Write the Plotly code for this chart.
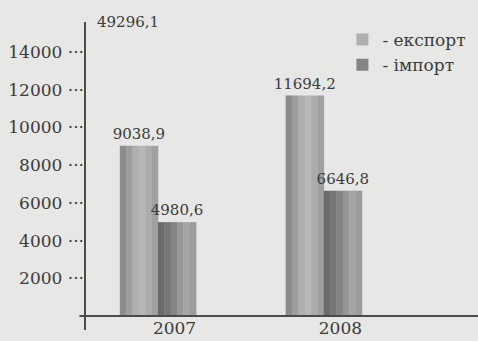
"""Export / import bar chart (2007-2008) recreated with Plotly."""

import plotly.graph_objects as go

YEARS = [2007, 2008]
EXPORT = [9038.9, 11694.2]
IMPORT = [4980.6, 6646.8]
TOTAL_LABEL = "49296,1"
SERIES_NAMES = ["- експорт", "- імпорт"]
Y_TICKS = [2000, 4000, 6000, 8000, 10000, 12000, 14000]

FONT = "DejaVu Serif"
TEXT = "#3b3b3b"
BG = "#e7e7e5"
BAR_W = 0.23
# light/dark strips fake the cylinder shading of the printed bars
EXPORT_STRIPS = ["#8c8c8c", "#9d9d9d", "#afafaf", "#b7b7b7", "#ababab", "#a0a0a0"]
IMPORT_STRIPS = ["#6b6b6b", "#767676", "#848484", "#979797", "#a5a5a5", "#9b9b9b"]


def _fmt(v):
    return f"{v:.1f}".replace(".", ",")


fig = go.Figure()


def _add_series(values, strips, start, name):
    strip_w = BAR_W / len(strips)
    for i, color in enumerate(strips):
        fig.add_trace(
            go.Bar(
                x=YEARS,
                y=values,
                width=strip_w * 1.05,
                offset=start + i * strip_w,
                marker=dict(color=color, line=dict(width=0)),
                name=name,
                showlegend=(i == 2),
                legendgroup=name,
                hoverinfo="skip" if i != 2 else None,
                cliponaxis=False,
            )
        )
    # labels sit over the middle of the whole bar
    fig.add_trace(
        go.Bar(
            x=YEARS,
            y=values,
            width=BAR_W,
            offset=start,
            marker=dict(color="rgba(0,0,0,0)", line=dict(width=0)),
            showlegend=False,
            hoverinfo="skip",
            text=[_fmt(v) for v in values],
            textposition="outside",
            constraintext="none",
            textfont=dict(family=FONT, size=15, color=TEXT),
            cliponaxis=False,
        )
    )


_add_series(EXPORT, EXPORT_STRIPS, -BAR_W, SERIES_NAMES[0])
_add_series(IMPORT, IMPORT_STRIPS, 0, SERIES_NAMES[1])

fig.update_layout(
    width=478,
    height=341,
    margin=dict(l=85, r=0, t=22, b=25),
    paper_bgcolor=BG,
    plot_bgcolor=BG,
    barmode="overlay",
    font=dict(family=FONT, color=TEXT, size=16),
    legend=dict(
        x=0.655,
        y=1.0,
        xanchor="left",
        yanchor="top",
        bgcolor="rgba(0,0,0,0)",
        font=dict(family=FONT, size=17, color=TEXT),
        tracegroupgap=0,
    ),
    showlegend=True,
)
fig.update_xaxes(
    range=[2006.56, 2008.93],
    tickvals=[y + 0.1 for y in YEARS],
    ticktext=[str(y) for y in YEARS],
    tickfont=dict(family=FONT, size=17, color=TEXT),
    showgrid=False,
    zeroline=False,
    showline=False,
    ticks="",
)
fig.update_yaxes(
    range=[0, 15600],
    tickvals=Y_TICKS,
    ticktext=[f"{t} ···" for t in Y_TICKS],
    tickfont=dict(family=FONT, size=17, color=TEXT),
    showgrid=False,
    zeroline=False,
    showline=False,
    ticks="",
)
# axis lines: y axis runs a little below the x axis
fig.add_shape(type="line", xref="paper", yref="paper", x0=-0.014, x1=1, y0=0, y1=0,
              line=dict(color="#4a4a4a", width=2))
fig.add_shape(type="line", xref="paper", yref="paper", x0=0, x1=0, y0=-0.048, y1=1,
              line=dict(color="#4a4a4a", width=2))
fig.add_annotation(
    text=TOTAL_LABEL, xref="paper", yref="paper", x=0.11, y=1.0,
    xanchor="center", yanchor="middle", showarrow=False,
    font=dict(family=FONT, size=15, color=TEXT),
)

fig.write_html(
    "out.html",
    config={"displayModeBar": False},
    post_script="document.body.style.margin='0';document.body.style.background='" + BG + "';",
)
